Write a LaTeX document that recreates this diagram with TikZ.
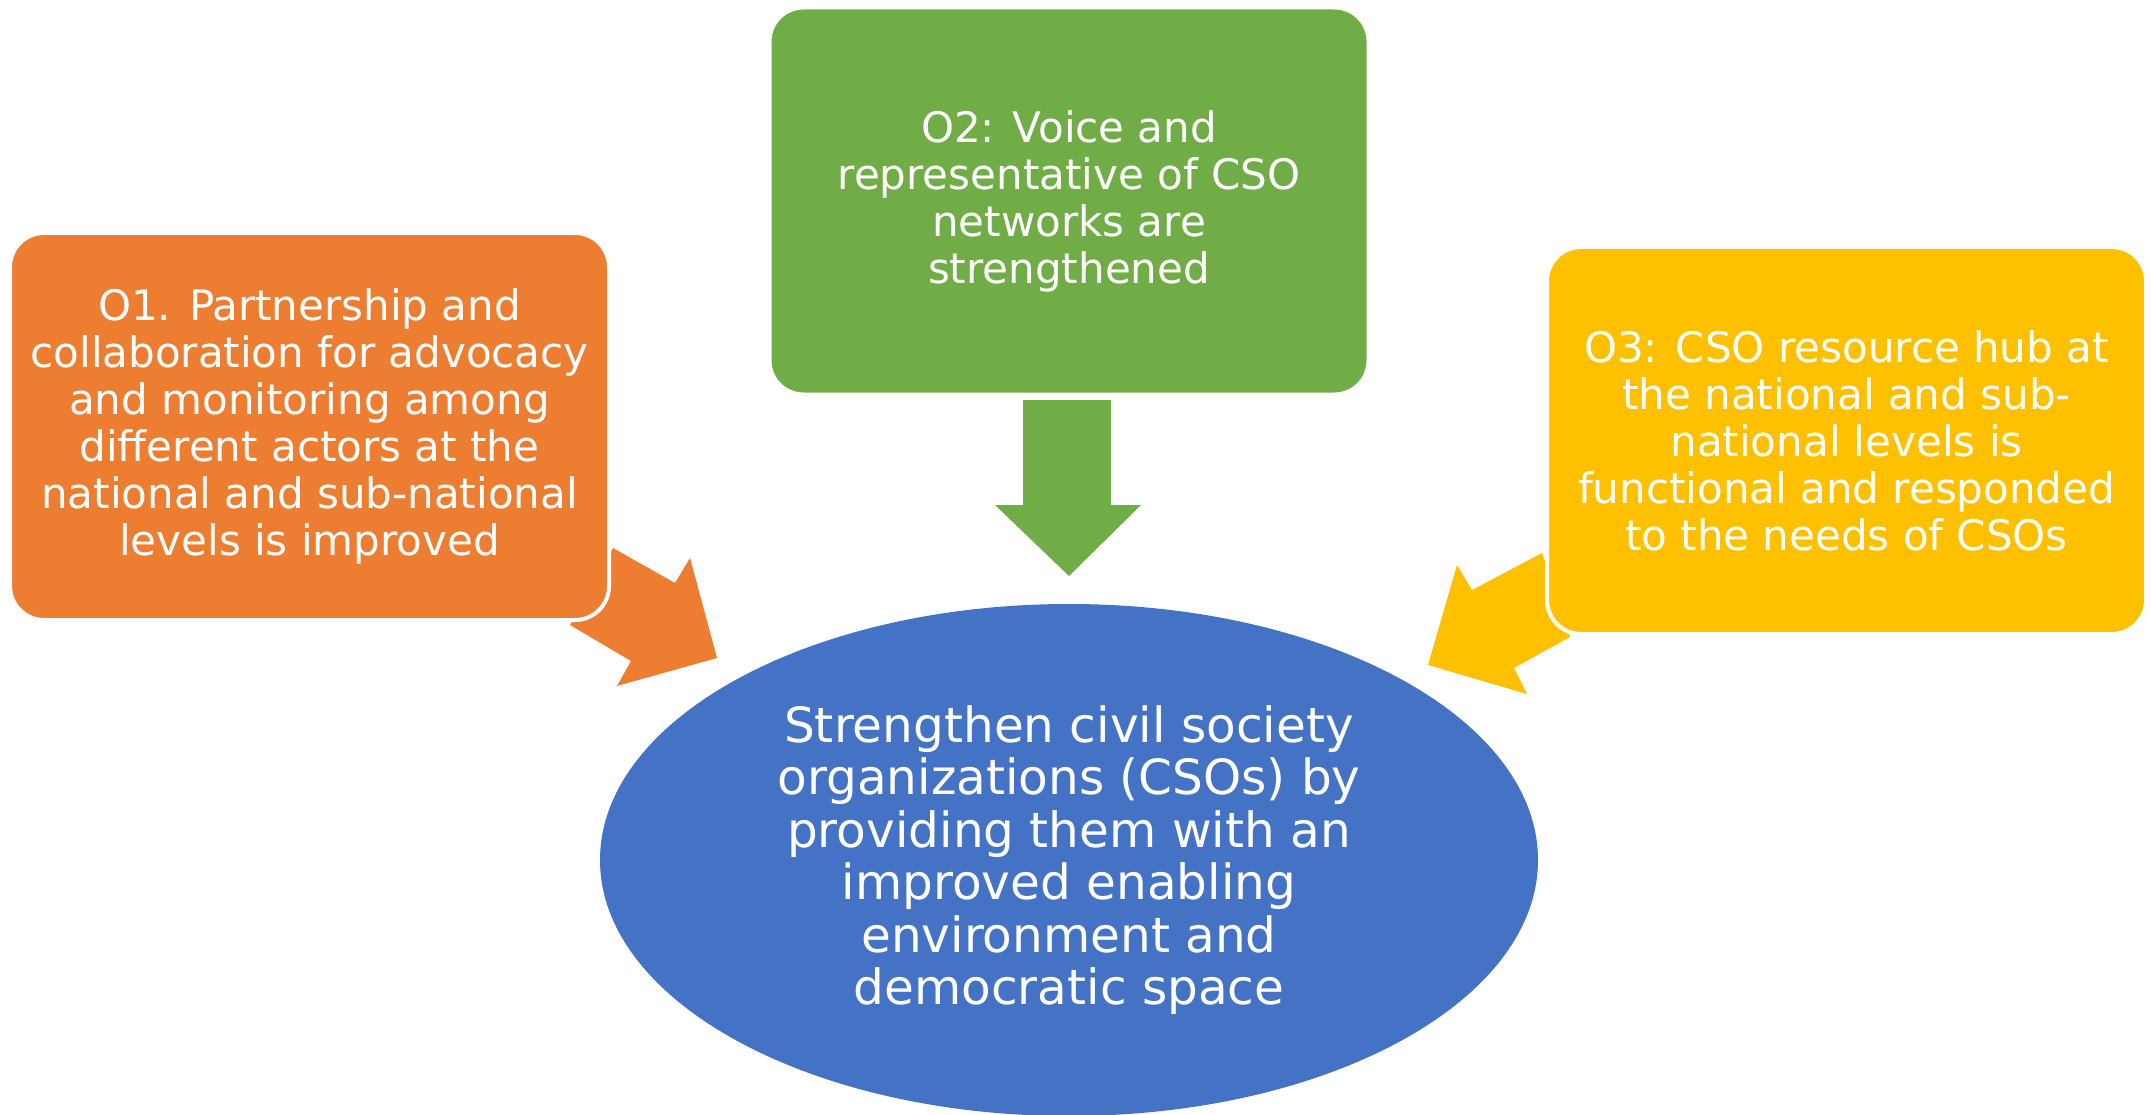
\documentclass[tikz,border=0pt]{standalone}
\usepackage{fontspec}
\setmainfont{DejaVu Sans}
\usetikzlibrary{shapes.geometric}
\definecolor{corange}{HTML}{ED7D31}
\definecolor{cgreen}{HTML}{70AD47}
\definecolor{cyellow}{HTML}{FFC000}
\definecolor{cblue}{HTML}{4472C4}
\begin{document}
\begin{tikzpicture}[x=1pt,y=-1pt,
  box/.style={rectangle, rounded corners=34pt, draw=white, line width=4pt,
    minimum width=599pt, minimum height=387pt, inner sep=0pt, align=center,
    text=white, font=\fontsize{42}{47}\selectfont},
  goal/.style={ellipse, minimum width=938pt, minimum height=512pt, inner sep=0pt,
    align=center, text=white, fill=cblue, font=\fontsize{48.5}{52.5}\selectfont}]
\useasboundingbox (0,0) rectangle (2151,1115);

% block arrows
\fill[cgreen] (1023,400) -- (1111,400) -- (1111,505) -- (1141,505) -- (1069,576)
  -- (995,505) -- (1023,505) -- cycle;
\fill[corange] (613,548) -- (675,583) -- (690,558) -- (717,658) -- (617,686)
  -- (631,661) -- (570,625) -- cycle;
\fill[cyellow] (1542,553) -- (1472,590) -- (1457,565) -- (1428,665) -- (1527,694)
  -- (1514,668) -- (1570,637) -- cycle;

\node[box, fill=corange] (o1) at (309.5,426.5)
  {O1. Partnership and\\collaboration for advocacy\\and monitoring among\\different actors at the\\national and sub-national\\levels is improved};
\node[box, fill=cgreen] (o2) at (1069,201)
  {O2: Voice and\\representative of CSO\\networks are\\strengthened};
\node[box, fill=cyellow] (o3) at (1846.5,440.5)
  {O3: CSO resource hub at\\the national and sub-\\national levels is\\functional and responded\\to the needs of CSOs};
\node[goal] (g) at (1069,860)
  {Strengthen civil society\\organizations (CSOs) by\\providing them with an\\improved enabling\\environment and\\democratic space};
\end{tikzpicture}
\end{document}
